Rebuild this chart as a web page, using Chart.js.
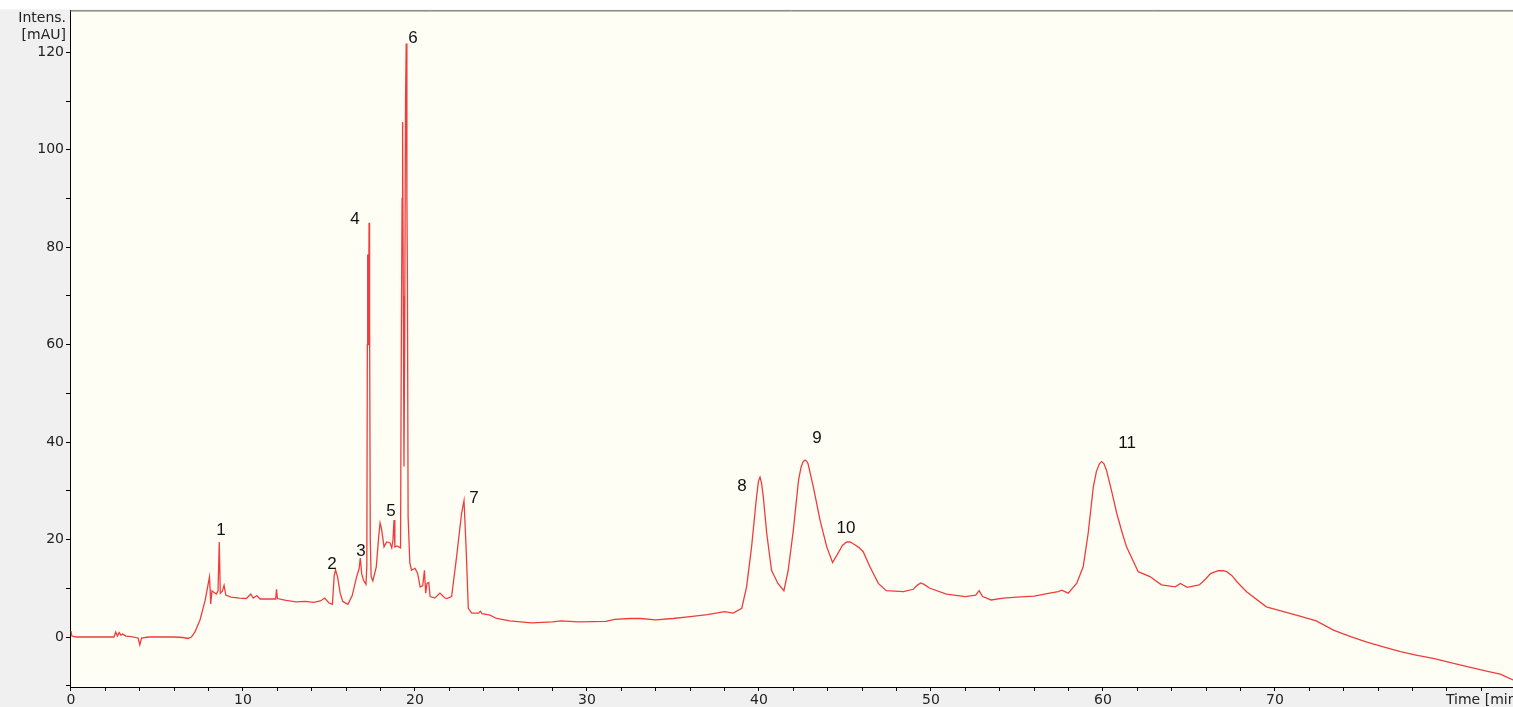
<!DOCTYPE html>
<html>
<head>
<meta charset="utf-8">
<script src="https://cdn.jsdelivr.net/npm/chart.js@4.4.1/dist/chart.umd.min.js"></script>
<style>
  body { margin: 0; background: #fff; overflow: hidden; }
</style>
</head>
<body>
<canvas id="chromCanvas" width="1513" height="707"></canvas>
<script>
// retention time (min) and detector signal (mAU)
let times = [
    0.00, 0.05, 0.3, 2.5, 2.6, 2.7, 2.8, 2.9, 3.0, 3.2, 3.5, 3.9, 4.0, 4.1, 4.5, 5.0, 6.0, 6.5, 6.8, 7.0,
    7.2, 7.5, 7.8, 8.05, 8.1, 8.12, 8.2, 8.3, 8.45, 8.55, 8.62, 8.68, 8.8, 8.9, 9.0, 9.3, 9.8, 10.2, 10.45, 10.6,
    10.8, 11.0, 11.5, 11.9, 11.95, 12.0, 12.5, 13.1, 13.6, 14.1, 14.5, 14.75, 15.0, 15.2, 15.3, 15.38, 15.5, 15.65, 15.8, 16.1,
    16.35, 16.6, 16.75, 16.82, 16.9, 17.0, 17.15, 17.2, 17.23, 17.25, 17.28, 17.31, 17.33, 17.36, 17.4, 17.45, 17.55, 17.75, 17.9, 17.97,
    18.05, 18.2, 18.35, 18.55, 18.65, 18.72, 18.78, 18.83, 18.95, 19.16, 19.2, 19.25, 19.28, 19.32, 19.36, 19.4, 19.45, 19.49, 19.53, 19.56,
    19.6, 19.7, 19.8, 20.0, 20.15, 20.3, 20.45, 20.55, 20.62, 20.7, 20.8, 20.88, 21.16, 21.45, 21.74, 21.85, 22.13, 22.42, 22.71, 22.85,
    22.97, 23.1, 23.3, 23.7, 23.8, 23.9, 24.36, 24.75, 25.5, 26.78, 28.0, 28.5, 29.5, 31.1, 31.6, 32.5, 33.1, 34.0, 35.0, 36.0, 37.0,
    38.0, 38.5, 39.0, 39.28, 39.57, 39.86, 39.97, 40.06, 40.15, 40.25, 40.45, 40.73, 41.1, 41.45, 41.7, 42.0, 42.3, 42.45, 42.57, 42.67,
    42.77, 42.85, 43.16, 43.55, 43.94, 44.28, 44.6, 44.85, 45.1, 45.3, 45.55, 45.8, 46.06, 46.45, 46.94, 47.4, 48.4, 48.97, 49.2, 49.4,
    49.6, 49.94, 50.9, 52.0, 52.6, 52.8, 53.0, 53.5, 54.2, 55.0, 56.0, 56.9, 57.4, 57.6, 57.98, 58.47, 58.85, 59.14, 59.44, 59.62,
    59.8, 59.92, 60.05, 60.2, 60.5, 60.8, 61.1, 61.37, 62.05, 62.73, 63.4, 64.2, 64.5, 64.9, 65.6, 66.0, 66.25, 66.7, 67.0, 67.2,
    67.5, 67.8, 68.35, 69.5, 70.5, 71.45, 72.4, 73.4, 74.4, 75.3, 76.3, 77.3, 78.2, 79.2, 80.75, 82.3, 83.1, 83.84
];
let intensities = [
    1.2, 0.2, 0, 0, 1.0, 0.2, 0.9, 0.4, 0.6, 0.2, 0.1, -0.2, -1.6, -0.2, 0, 0, 0, -0.1, -0.3, 0,
    1.0, 3.5, 7.5, 12.3, 9, 6.8, 9.5, 9.2, 8.8, 9.5, 19.5, 9.0, 9.4, 10.6, 8.6, 8.2, 8.0, 7.9, 8.8, 8.0,
    8.5, 7.8, 7.8, 7.8, 9.8, 7.9, 7.5, 7.2, 7.3, 7.1, 7.4, 8.0, 7.0, 6.7, 12.5, 13.8, 12.3, 9, 7.3, 6.7,
    8.5, 12.3, 14, 16.2, 13, 11.7, 10.8, 14.5, 60, 78.5, 60, 70, 85, 66, 20, 12.4, 11.5, 14.4, 21, 23.4,
    22.3, 18.5, 19.5, 19.3, 18.3, 19.9, 24, 18.5, 18.7, 18.3, 56, 90, 105.7, 70, 35, 60, 110, 121.8, 90, 73,
    24.7, 15.2, 13.7, 14.1, 13.1, 10.3, 10.5, 13.7, 9.0, 11, 11.2, 8.3, 8.0, 9.0, 8.0, 7.9, 8.3, 16.5, 25.4, 28,
    18.5, 5.9, 4.9, 4.9, 5.3, 4.8, 4.5, 3.8, 3.3, 2.9, 3.1, 3.3, 3.1, 3.2, 3.6, 3.8, 3.8, 3.5, 3.8, 4.2, 4.6,
    5.2, 4.9, 5.9, 10.3, 18.5, 28.8, 32.0, 32.8, 31.6, 28.8, 21.3, 13.7, 11, 9.5, 13.7, 22, 32.2, 34.9, 36.0, 36.3,
    36.1, 35.6, 30.8, 24, 18.5, 15.3, 17.2, 18.8, 19.5, 19.5, 19.0, 18.4, 17.5, 14.4, 11, 9.5, 9.3, 9.8, 10.6, 11.1,
    10.8, 10, 8.8, 8.3, 8.6, 9.5, 8.3, 7.6, 8.0, 8.2, 8.4, 9.0, 9.3, 9.6, 9.0, 11, 14.4, 21.3, 30.8, 34.0,
    35.6, 36, 35.6, 34.3, 30.0, 25.4, 21.6, 18.5, 13.4, 12.4, 10.7, 10.3, 11, 10.2, 10.7, 12, 13.0, 13.6, 13.6, 13.4,
    12.6, 11.3, 9.3, 6.2, 5.2, 4.3, 3.3, 1.4, 0.1, -1.0, -2.0, -3.0, -3.7, -4.4, -5.7, -7.0, -7.6, -8.8
];

// peak numbers and where they are written
let peakNames = ['1', '2', '3', '4', '5', '6', '7', '8', '9', '10', '11'];
let peakLabelTimes = [8.72, 15.17, 16.86, 16.51, 18.6, 19.88, 23.43, 39.01, 43.37, 45.06, 61.4];
let peakLabelValues = [21.9, 15.0, 17.6, 85.7, 25.8, 122.9, 28.5, 31.0, 40.8, 22.3, 39.8];

// axis ticks
let xTicks = [0, 2, 4, 6, 8, 10, 12, 14, 16, 18, 20, 22, 24, 26, 28, 30, 32, 34, 36, 38, 40,
    42, 44, 46, 48, 50, 52, 54, 56, 58, 60, 62, 64, 66, 68, 70, 72, 74, 76, 78, 80, 82];
let xLabels = [0, 10, 20, 30, 40, 50, 60, 70];
let yTicks = [-10, 0, 10, 20, 30, 40, 50, 60, 70, 80, 90, 100, 110, 120];
let yLabels = [0, 20, 40, 60, 80, 100, 120];

let tickFont = { family: 'DejaVu Sans', size: 14 };

let backdrop = {
    id: 'backdrop',
    beforeDraw: function (chart) {
        let ctx = chart.ctx;
        let a = chart.chartArea;
        ctx.save();
        ctx.fillStyle = '#ffffff';
        ctx.fillRect(0, 0, chart.width, chart.height);
        ctx.fillStyle = '#f0f0f0';
        ctx.fillRect(0, a.top - 1, chart.width, chart.height);
        ctx.fillStyle = '#fffef5';
        ctx.fillRect(a.left, a.top, a.right - a.left, a.bottom - a.top);
        ctx.restore();
    },
    afterDraw: function (chart) {
        let ctx = chart.ctx;
        let a = chart.chartArea;
        let xs = chart.scales.x;
        let ys = chart.scales.y;
        ctx.save();
        ctx.strokeStyle = '#505050';
        ctx.lineWidth = 1;
        ctx.beginPath();
        ctx.moveTo(a.left, a.top + 0.5);
        ctx.lineTo(a.right, a.top + 0.5);
        ctx.stroke();

        ctx.fillStyle = '#222';
        ctx.font = '14px "DejaVu Sans"';
        ctx.textAlign = 'right';
        ctx.textBaseline = 'middle';
        ctx.fillText('Intens.', 66, 18);
        ctx.fillText('[mAU]', 66, 35);

        ctx.textAlign = 'left';
        ctx.textBaseline = 'top';
        ctx.fillText('Time [min]', xs.getPixelForValue(80) - 1, a.bottom + 6);

        ctx.fillStyle = '#111';
        ctx.font = '17px "Liberation Sans"';
        ctx.textAlign = 'center';
        ctx.textBaseline = 'middle';
        peakNames.forEach(function (name, i) {
            ctx.fillText(name, xs.getPixelForValue(peakLabelTimes[i]), ys.getPixelForValue(peakLabelValues[i]));
        });
        ctx.restore();
    }
};

let chromDraw = function () {
    let ctx = document.getElementById('chromCanvas').getContext('2d');

    window.chromChart = new Chart(ctx, {
        type: 'line',
        data: {
            datasets: [{
                data: times.map(function (t, i) { return { x: t, y: intensities[i] }; }),
                borderColor: 'rgba(236, 40, 40, 0.9)',
                borderWidth: 1.3,
                pointRadius: 0,
                tension: 0,
                fill: false
            }]
        },
        options: {
            responsive: false,
            animation: false,
            layout: { padding: { top: 10, right: 0, left: 0, bottom: 0 } },
            plugins: { legend: { display: false }, tooltip: { enabled: false } },
            scales: {
                x: {
                    type: 'linear',
                    min: -0.058,
                    max: 83.84,
                    afterFit: function (s) { s.height = 20; },
                    afterBuildTicks: function (s) { s.ticks = xTicks.map(function (v) { return { value: v }; }); },
                    border: { display: true, color: '#000', width: 1 },
                    grid: { drawOnChartArea: false, drawTicks: true, tickLength: 4, color: '#000' },
                    ticks: {
                        autoSkip: false,
                        maxRotation: 0,
                        padding: 1,
                        color: '#222',
                        font: tickFont,
                        callback: function (v) { return xLabels.indexOf(v) >= 0 ? String(v) : ''; }
                    }
                },
                y: {
                    min: -10.26,
                    max: 128.6,
                    afterFit: function (s) { s.width = 70; },
                    afterBuildTicks: function (s) { s.ticks = yTicks.map(function (v) { return { value: v }; }); },
                    border: { display: true, color: '#000', width: 1 },
                    grid: { drawOnChartArea: false, drawTicks: true, tickLength: 4, color: '#000' },
                    ticks: {
                        autoSkip: false,
                        padding: 2,
                        color: '#222',
                        font: tickFont,
                        callback: function (v) { return yLabels.indexOf(v) >= 0 ? String(v) : ''; }
                    }
                }
            }
        },
        plugins: [backdrop]
    });
};

window.onload = function () {
    chromDraw();
};
</script>
</body>
</html>
